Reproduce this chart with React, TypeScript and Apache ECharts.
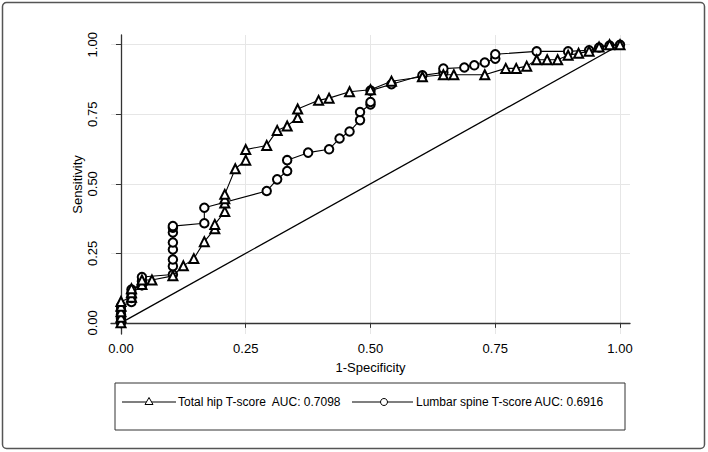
import React, { useEffect, useRef } from "react";
import * as echarts from "echarts";

const tickValues = [0, 0.25, 0.5, 0.75, 1];

const hipX = [0, 0, 0, 0, 0, 0.021, 0.021, 0.021, 0.042, 0.042, 0.062, 0.104, 0.125, 0.146, 0.167, 0.188, 0.188, 0.208, 0.208, 0.208, 0.208, 0.229, 0.25, 0.25, 0.292, 0.313, 0.333, 0.354, 0.354, 0.396, 0.417, 0.458, 0.5, 0.542, 0.604, 0.646, 0.667, 0.729, 0.771, 0.792, 0.813, 0.833, 0.854, 0.875, 0.896, 0.917, 0.938, 0.958, 0.979, 1];
const hipY = [0, 0.02, 0.04, 0.06, 0.077, 0.092, 0.108, 0.123, 0.138, 0.154, 0.154, 0.169, 0.205, 0.231, 0.292, 0.338, 0.354, 0.4, 0.431, 0.446, 0.462, 0.554, 0.585, 0.623, 0.638, 0.692, 0.708, 0.738, 0.769, 0.8, 0.808, 0.831, 0.838, 0.869, 0.885, 0.892, 0.892, 0.892, 0.915, 0.915, 0.923, 0.946, 0.946, 0.946, 0.962, 0.969, 0.977, 0.992, 1, 1];

const spineX = [0, 0, 0, 0, 0, 0.021, 0.021, 0.021, 0.021, 0.042, 0.042, 0.042, 0.104, 0.104, 0.104, 0.104, 0.104, 0.104, 0.104, 0.104, 0.167, 0.167, 0.292, 0.313, 0.333, 0.333, 0.375, 0.417, 0.438, 0.458, 0.479, 0.479, 0.5, 0.5, 0.5, 0.542, 0.604, 0.646, 0.646, 0.688, 0.708, 0.729, 0.75, 0.75, 0.833, 0.896, 0.938, 0.958, 0.979, 1];
const spineY = [0, 0.015, 0.03, 0.045, 0.06, 0.075, 0.09, 0.105, 0.12, 0.135, 0.15, 0.165, 0.174, 0.204, 0.228, 0.264, 0.289, 0.325, 0.342, 0.348, 0.358, 0.414, 0.474, 0.516, 0.546, 0.585, 0.612, 0.624, 0.663, 0.688, 0.729, 0.758, 0.785, 0.794, 0.835, 0.858, 0.89, 0.9, 0.914, 0.918, 0.926, 0.936, 0.95, 0.966, 0.976, 0.976, 0.98, 0.99, 0.997, 1];

const refX = [0, 1];
const refY = [0, 1];

const hipLabel = "Total hip T-score  AUC: 0.7098";
const spineLabel = "Lumbar spine T-score AUC: 0.6916";

const FONT = "'Liberation Sans', Helvetica, Arial, sans-serif";

function zip(xs: number[], ys: number[]) {
  return xs.map((x, i) => [x, ys[i]]);
}

export default function App() {
  const ref = useRef<HTMLDivElement>(null);
  useEffect(() => {
    document.body.style.margin = "0";
    const chart = echarts.init(ref.current!, null, { renderer: "svg" });
    const axisCommon = {
      axisLine: { show: true, lineStyle: { color: "#333", width: 1.3 } },
      axisTick: { show: true, length: 5, customValues: tickValues, lineStyle: { color: "#333", width: 1 } },
      splitLine: { show: false },
    };
    const gridLines = [
      ...tickValues.map((v) => ({ xAxis: v })),
      ...tickValues.map((v) => ({ yAxis: v })),
    ];
    chart.setOption({
      animation: false,
      backgroundColor: "#fff",
      textStyle: { fontFamily: FONT },
      grid: { left: 111, right: 78, top: 35, bottom: 118 },
      xAxis: {
        type: "value",
        min: -0.02,
        max: 1.02,
        ...axisCommon,
        axisLabel: {
          customValues: tickValues,
          formatter: (v: number) => v.toFixed(2),
          color: "#000",
          fontSize: 13,
          fontFamily: FONT,
          margin: 8,
        },
        name: "1-Specificity",
        nameLocation: "middle",
        nameGap: 27,
        nameMoveOverlap: false,
        nameTextStyle: { color: "#000", fontSize: 13, fontFamily: FONT },
      },
      yAxis: {
        type: "value",
        min: -0.04,
        max: 1.035,
        ...axisCommon,
        axisLabel: {
          customValues: tickValues,
          formatter: (v: number) => v.toFixed(2),
          color: "#000",
          fontSize: 13,
          fontFamily: FONT,
          rotate: 90,
          margin: 12,
        },
        name: "Sensitivity",
        nameLocation: "middle",
        nameGap: 27,
        nameMoveOverlap: false,
        nameTextStyle: { color: "#000", fontSize: 13, fontFamily: FONT },
      },
      series: [
        {
          type: "line",
          data: zip(refX, refY),
          showSymbol: false,
          lineStyle: { color: "#000", width: 1.3 },
          silent: true,
          z: 2,
          markLine: {
            silent: true,
            symbol: ["none", "none"],
            label: { show: false },
            lineStyle: { color: "#e6e6e6", width: 1, type: "solid" },
            data: gridLines,
            z: 0,
          },
        },
        {
          type: "line",
          data: zip(spineX, spineY),
          symbol: "emptyCircle",
          symbolSize: 8.5,
          lineStyle: { color: "#000", width: 1.1 },
          itemStyle: { color: "#000", borderWidth: 1 },
          z: 3,
        },
        {
          type: "line",
          data: zip(hipX, hipY),
          symbol: "emptyTriangle",
          symbolSize: 9,
          lineStyle: { color: "#000", width: 1.1 },
          itemStyle: { color: "#000", borderWidth: 1 },
          z: 4,
        },
      ],
      graphic: [
        {
          type: "rect",
          shape: { x: 2.5, y: 2.5, width: 702, height: 446, r: 4 },
          style: { fill: "none", stroke: "#555", lineWidth: 1.5 },
          silent: true,
        },
        {
          type: "rect",
          shape: { x: 115, y: 383, width: 510, height: 47 },
          style: { fill: "none", stroke: "#333", lineWidth: 1 },
          silent: true,
        },
        { type: "line", shape: { x1: 122, y1: 402, x2: 176, y2: 402 }, style: { stroke: "#000", lineWidth: 1.2 } },
        {
          type: "polygon",
          shape: { points: [[149, 397.5], [145, 404.5], [153, 404.5]] },
          style: { fill: "#fff", stroke: "#000", lineWidth: 1 },
        },
        {
          type: "text",
          x: 178,
          y: 402,
          style: { text: hipLabel, fill: "#000", font: `12px ${FONT}`, verticalAlign: "middle", align: "left" },
        },
        { type: "line", shape: { x1: 352, y1: 402, x2: 413, y2: 402 }, style: { stroke: "#000", lineWidth: 1.2 } },
        {
          type: "circle",
          shape: { cx: 384, cy: 402, r: 3.5 },
          style: { fill: "#fff", stroke: "#000", lineWidth: 1 },
        },
        {
          type: "text",
          x: 416,
          y: 402,
          style: { text: spineLabel, fill: "#000", font: `12px ${FONT}`, verticalAlign: "middle", align: "left" },
        },
      ],
    });
    return () => chart.dispose();
  }, []);
  return (
    <div
      ref={ref}
      style={{ position: "absolute", left: 0, top: 0, width: 708, height: 452 }}
    />
  );
}
